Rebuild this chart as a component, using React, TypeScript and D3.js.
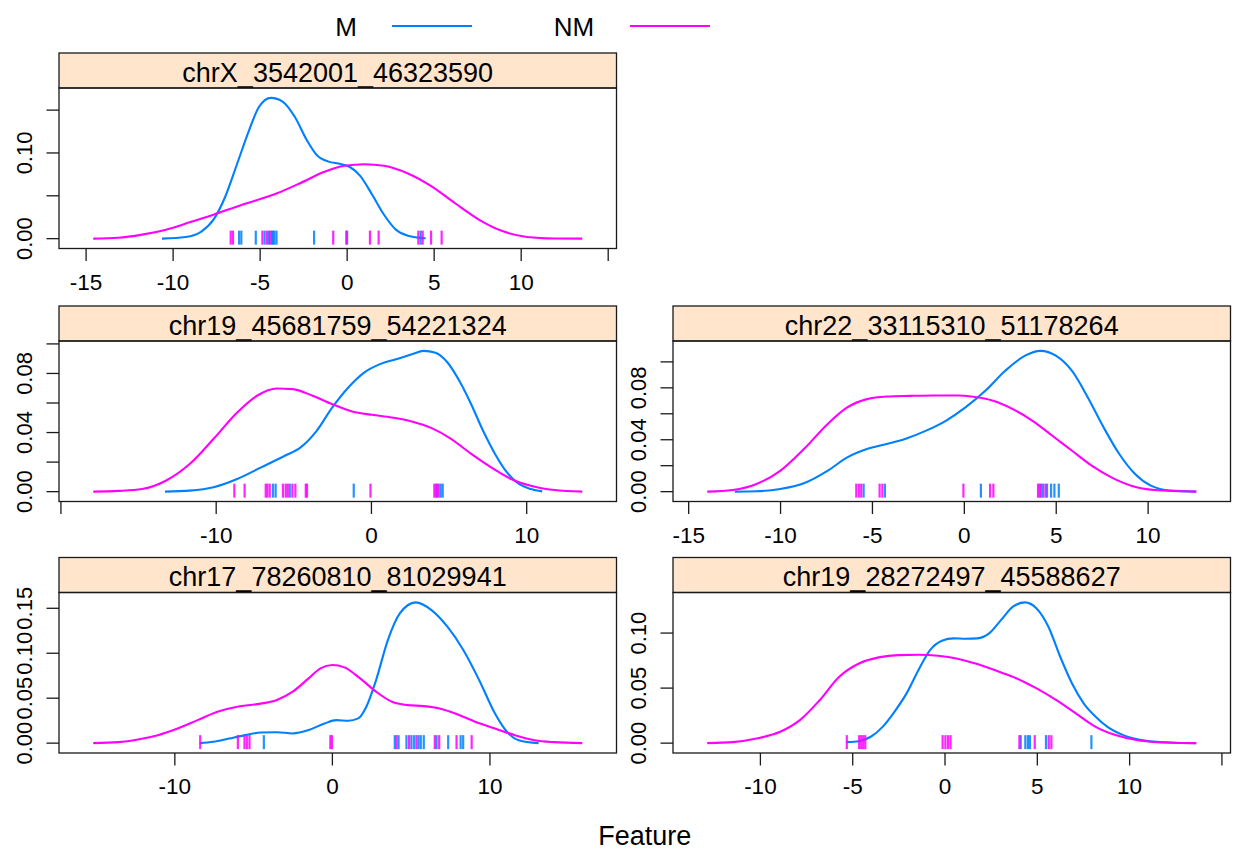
import React, { useEffect, useRef } from 'react';
import * as d3 from 'd3';

// groups and colours (lattice superpose defaults)
const groups = ['M', 'NM'];
const groupColors = ['#0080ff', '#ff00ff'];

const panelNames = [
  'chrX_3542001_46323590',
  'chr19_45681759_54221324',
  'chr22_33115310_51178264',
  'chr17_78260810_81029941',
  'chr19_28272497_45588627',
];

// density curves: [feature, density]
const chrX_M = [
  [-10.64, 0], [-9.28, 0.0019], [-8.36, 0.0085], [-7.68, 0.0221], [-7.0, 0.0492], [-6.31, 0.088],
  [-5.63, 0.1267], [-5.06, 0.1539], [-4.38, 0.1643], [-3.69, 0.1597], [-3.01, 0.1422], [-2.32, 0.1151],
  [-1.75, 0.0977], [-1.07, 0.0899], [-0.39, 0.0872], [0.18, 0.0833], [0.75, 0.0733], [1.44, 0.0512],
  [2.12, 0.0279], [2.8, 0.0105], [3.49, 0.0035], [4.51, 0.0004],
];
const chrX_NM = [
  [-14.59, 0], [-13.15, 0.001], [-11.78, 0.0047], [-10.41, 0.0105], [-9.05, 0.019], [-7.68, 0.028],
  [-6.31, 0.0376], [-4.95, 0.0465], [-4.03, 0.053], [-2.67, 0.065], [-1.3, 0.078], [-0.16, 0.085],
  [0.98, 0.0868], [2.12, 0.085], [3.49, 0.076], [4.85, 0.061], [6.22, 0.041], [7.59, 0.022],
  [8.96, 0.0085], [10.32, 0.002], [11.92, 0.0002], [13.51, 0],
];
const chr19a_M = [
  [-13.3, 0], [-11.71, 0.0007], [-10.18, 0.003], [-8.65, 0.0086], [-7.11, 0.0164], [-5.58, 0.0243],
  [-4.56, 0.03], [-3.54, 0.041], [-2.52, 0.057], [-1.49, 0.0705], [-0.47, 0.0806], [0.55, 0.0863],
  [1.58, 0.0896], [2.6, 0.093], [3.36, 0.0953], [4.13, 0.094], [4.9, 0.0874], [5.66, 0.075],
  [6.43, 0.059], [7.2, 0.041], [7.96, 0.0255], [8.73, 0.013], [9.5, 0.0052], [10.26, 0.0018], [11.0, 0.0002],
];
const chr19a_NM = [
  [-17.92, 0], [-16.31, 0.0005], [-14.78, 0.0018], [-13.25, 0.0074], [-11.71, 0.0187], [-10.18, 0.0356],
  [-8.65, 0.0536], [-7.37, 0.0649], [-6.09, 0.0698], [-5.07, 0.0694], [-3.79, 0.0649], [-2.52, 0.0592],
  [-1.24, 0.0543], [0.04, 0.052], [1.32, 0.0502], [2.6, 0.0475], [3.88, 0.043], [5.15, 0.0356],
  [6.43, 0.0255], [7.71, 0.0164], [8.99, 0.0086], [10.26, 0.004], [11.79, 0.0011], [13.58, 0],
];
const chr22_M = [
  [-12.49, 0], [-11.31, 0.0003], [-10.02, 0.002], [-8.73, 0.0064], [-7.45, 0.016], [-6.37, 0.0264],
  [-5.3, 0.0328], [-4.23, 0.0367], [-3.15, 0.041], [-2.08, 0.047], [-1.01, 0.0546], [0.06, 0.0649],
  [1.14, 0.0777], [2.21, 0.093], [3.28, 0.1046], [4.14, 0.1085], [5.0, 0.1046], [5.86, 0.093],
  [6.72, 0.0726], [7.58, 0.0495], [8.43, 0.029], [9.29, 0.0136], [10.15, 0.0046], [11.22, 0.0008], [12.62, 0],
];
const chr22_NM = [
  [-13.99, 0], [-12.6, 0.0013], [-11.31, 0.0059], [-10.02, 0.016], [-8.73, 0.0328], [-7.45, 0.052],
  [-6.37, 0.0649], [-5.3, 0.0713], [-4.23, 0.0733], [-2.94, 0.0738], [-1.65, 0.0741], [-0.36, 0.0741],
  [0.49, 0.0731], [1.57, 0.07], [2.64, 0.0636], [3.71, 0.0546], [4.79, 0.0431], [5.86, 0.0315],
  [6.93, 0.02], [8.0, 0.011], [9.08, 0.0046], [10.36, 0.0013], [12.62, 0],
];
const chr17_M = [
  [-8.43, 0], [-7.55, 0.0015], [-6.55, 0.0052], [-5.54, 0.0089], [-4.53, 0.0119], [-3.52, 0.0122],
  [-2.52, 0.0108], [-1.51, 0.0145], [-0.5, 0.0219], [0.25, 0.0256], [1.01, 0.0249], [1.64, 0.0275],
  [2.14, 0.04], [2.77, 0.07], [3.52, 0.1147], [4.28, 0.1444], [5.29, 0.1566], [6.29, 0.148],
  [7.3, 0.1295], [8.31, 0.1036], [9.32, 0.07], [10.32, 0.033], [11.08, 0.0126], [11.83, 0.0033], [13.09, 0],
];
const chr17_NM = [
  [-15.18, 0], [-13.6, 0.0011], [-12.34, 0.0041], [-11.08, 0.0089], [-9.82, 0.0163], [-8.56, 0.0256],
  [-7.3, 0.0349], [-6.04, 0.0405], [-4.78, 0.0434], [-3.52, 0.0479], [-2.52, 0.0572], [-1.51, 0.072],
  [-0.76, 0.0831], [0, 0.0869], [0.76, 0.0843], [1.76, 0.072], [2.77, 0.0572], [3.78, 0.046],
  [4.78, 0.0423], [5.79, 0.0412], [6.8, 0.0386], [7.8, 0.033], [9.06, 0.0238], [10.32, 0.0163],
  [11.58, 0.0089], [12.84, 0.0033], [14.1, 0.0011], [15.86, 0],
];
const chr19b_M = [
  [-5.34, 0.0009], [-4.66, 0.0018], [-4.02, 0.0058], [-3.38, 0.0148], [-2.74, 0.0285], [-2.09, 0.045],
  [-1.45, 0.066], [-0.81, 0.0845], [-0.17, 0.093], [0.47, 0.0952], [1.11, 0.0948], [1.75, 0.0952],
  [2.39, 0.0997], [3.03, 0.1118], [3.68, 0.124], [4.32, 0.1279], [4.96, 0.1224], [5.6, 0.1058],
  [6.24, 0.0785], [6.88, 0.0542], [7.52, 0.036], [8.16, 0.024], [8.8, 0.0148], [9.66, 0.0073],
  [10.73, 0.0027], [12.22, 0.0006], [13.61, 0],
];
const chr19b_NM = [
  [-12.88, 0], [-11.5, 0.0009], [-10.21, 0.0042], [-8.93, 0.0103], [-7.86, 0.0209], [-6.79, 0.039],
  [-5.73, 0.0603], [-4.66, 0.0724], [-3.59, 0.0779], [-2.52, 0.08], [-1.45, 0.0803], [-0.38, 0.0794],
  [0.68, 0.0767], [1.75, 0.0718], [2.82, 0.0655], [3.89, 0.0588], [4.96, 0.0497], [6.03, 0.0391],
  [7.09, 0.027], [8.16, 0.0148], [9.23, 0.0073], [10.51, 0.0024], [12.22, 0.0003], [13.61, 0],
];

// observed values (rug)
const chrX_M_pts = [-6.21, -6.08, -5.25, -4.74, -4.49, -4.33, -4.26, -4.18, -4.06, -1.9, 0.0, 4.22];
const chrX_NM_pts = [-6.69, -6.56, -4.87, -4.6, -4.41, -0.8, -0.05, 1.31, 1.81, 4.09, 4.34, 4.82, 5.43];
const chr19a_M_pts = [-6.34, -6.17, -5.26, -1.14, 4.24, 4.46, 4.59];
const chr19a_NM_pts = [-8.83, -8.17, -6.81, -6.7, -6.55, -5.7, -5.52, -5.39, -5.09, -4.9, -4.23, -4.15, -0.06, 4.05, 4.16, 4.33];
const chr22_M_pts = [-5.48, -4.32, 0.9, 4.1, 4.28, 4.5, 4.72, 4.9, 5.14];
const chr22_NM_pts = [-5.88, -5.74, -5.61, -4.61, -4.46, -0.05, 1.4, 1.58, 4.01, 4.17, 4.41];
const chr17_M_pts = [-4.35, 3.96, 4.2, 4.7, 5.02, 5.19, 5.47, 5.61, 5.8, 6.61, 7.35, 8.14, 8.3];
const chr17_NM_pts = [-8.39, -6.0, -5.58, -5.43, -5.26, -0.13, -0.03, 4.07, 4.87, 5.34, 6.5, 6.78, 7.88, 8.84];
const chr19b_M_pts = [4.1, 4.35, 4.49, 4.6, 5.47, 7.93];
const chr19b_NM_pts = [-5.32, -4.65, -4.54, -4.43, -4.32, -0.13, 0.02, 0.16, 0.3, 4.03, 4.86, 5.62, 5.76];

// axis ticks and the ones that carry a label
const xTicks = [
  [-15, -10, -5, 0, 5, 10, 15],
  [-20, -10, 0, 10],
  [-15, -10, -5, 0, 5, 10],
  [-10, 0, 10],
  [-10, -5, 0, 5, 10, 15],
];
const xLabels = [
  [-15, -10, -5, 0, 5, 10],
  [-10, 0, 10],
  [-15, -10, -5, 0, 5, 10],
  [-10, 0, 10],
  [-10, -5, 0, 5, 10],
];
const yTicks = [
  [0, 0.05, 0.1, 0.15],
  [0, 0.02, 0.04, 0.06, 0.08, 0.1],
  [0, 0.02, 0.04, 0.06, 0.08, 0.1],
  [0, 0.05, 0.1, 0.15],
  [0, 0.05, 0.1],
];
const yLabels = [
  [0, 0.1],
  [0, 0.04, 0.08],
  [0, 0.04, 0.08],
  [0, 0.05, 0.1, 0.15],
  [0, 0.05, 0.1],
];

const curvesM = [chrX_M, chr19a_M, chr22_M, chr17_M, chr19b_M];
const curvesNM = [chrX_NM, chr19a_NM, chr22_NM, chr17_NM, chr19b_NM];
const rugM = [chrX_M_pts, chr19a_M_pts, chr22_M_pts, chr17_M_pts, chr19b_M_pts];
const rugNM = [chrX_NM_pts, chr19a_NM_pts, chr22_NM_pts, chr17_NM_pts, chr19b_NM_pts];
const panelCell = [[0, 0], [0, 1], [1, 1], [0, 2], [1, 2]]; // [col, row]

const DensityPanels = () => {
  const ref = useRef(null);

  useEffect(() => {
    const width = 1235;
    const height = 852;
    const font = '"Liberation Sans", Arial, Helvetica, sans-serif';
    const colLeft = [59, 673];
    const panelW = 557.5;
    const rowTop = [53, 306, 557.5];
    const stripH = 35;
    const plotH = 160.5;
    const tick = 12.5;
    const ink = '#1a1a1a';

    const svg = d3.select(ref.current)
      .attr('width', width)
      .attr('height', height);

    svg.selectAll('*').remove();

    svg.append('rect').attr('width', width).attr('height', height).attr('fill', '#fff');

    // legend on top
    const legend = svg.append('g').style('font-family', font).style('font-size', '26px');
    const legendText = [346, 574];
    const legendLine = [[392, 472], [630, 710]];
    groups.forEach((gname, i) => {
      legend.append('text')
        .attr('x', legendText[i])
        .attr('y', 36)
        .attr('text-anchor', 'middle')
        .attr('fill', '#000')
        .text(gname);
      legend.append('line')
        .attr('x1', legendLine[i][0])
        .attr('x2', legendLine[i][1])
        .attr('y1', 26)
        .attr('y2', 26)
        .attr('stroke', groupColors[i])
        .attr('stroke-width', 2);
    });

    panelNames.forEach((name, i) => {
      const [col, row] = panelCell[i];
      const left = colLeft[col];
      const right = left + panelW;
      const top = rowTop[row];
      const plotTop = top + stripH;
      const plotBottom = plotTop + plotH;

      const all = [...curvesM[i], ...curvesNM[i]];
      const [x0, x1] = d3.extent(all, d => d[0]);
      const xPad = (x1 - x0) * 0.07;
      const x = d3.scaleLinear().domain([x0 - xPad, x1 + xPad]).range([left, right]);
      const yMax = d3.max(all, d => d[1]);
      const y = d3.scaleLinear().domain([-0.07 * yMax, 1.07 * yMax]).range([plotBottom, plotTop]);

      const g = svg.append('g');

      // strip
      g.append('rect')
        .attr('x', left)
        .attr('y', top)
        .attr('width', panelW)
        .attr('height', stripH)
        .attr('fill', '#ffe5cc')
        .attr('stroke', ink)
        .attr('stroke-width', 1.3);
      g.append('text')
        .attr('x', (left + right) / 2)
        .attr('y', top + 28.5)
        .attr('text-anchor', 'middle')
        .style('font-family', font)
        .style('font-size', '27px')
        .attr('fill', '#000')
        .text(name);

      // x axis
      xTicks[i].forEach(t => {
        g.append('line')
          .attr('x1', x(t)).attr('x2', x(t))
          .attr('y1', plotBottom).attr('y2', plotBottom + tick)
          .attr('stroke', ink).attr('stroke-width', 1.3);
      });
      xLabels[i].forEach(t => {
        g.append('text')
          .attr('x', x(t))
          .attr('y', plotBottom + 41)
          .attr('text-anchor', 'middle')
          .style('font-family', font)
          .style('font-size', '22.5px')
          .attr('fill', '#000')
          .text(t);
      });

      // y axis
      yTicks[i].forEach(t => {
        g.append('line')
          .attr('x1', left - tick).attr('x2', left)
          .attr('y1', y(t)).attr('y2', y(t))
          .attr('stroke', ink).attr('stroke-width', 1.3);
      });
      yLabels[i].forEach(t => {
        g.append('text')
          .attr('transform', `translate(${left - 27},${y(t)}) rotate(-90)`)
          .attr('text-anchor', 'middle')
          .style('font-family', font)
          .style('font-size', '22px')
          .attr('fill', '#000')
          .text(d3.format('.2f')(t));
      });

      const line = d3.line()
        .x(d => x(d[0]))
        .y(d => y(d[1]))
        .curve(d3.curveMonotoneX);

      const y0 = y(0);
      [curvesM[i], curvesNM[i]].forEach((curve, k) => {
        g.append('path')
          .datum(curve)
          .attr('d', line)
          .attr('fill', 'none')
          .attr('stroke', groupColors[k])
          .attr('stroke-width', 2.1);

        const pts = k === 0 ? rugM[i] : rugNM[i];
        g.selectAll(null)
          .data(pts)
          .enter()
          .append('line')
          .attr('x1', d => x(d)).attr('x2', d => x(d))
          .attr('y1', y0 - 8).attr('y2', y0 + 6)
          .attr('stroke', groupColors[k])
          .attr('stroke-width', 2.2)
          .attr('opacity', 0.85);
      });

      // panel box on top
      g.append('rect')
        .attr('x', left)
        .attr('y', plotTop)
        .attr('width', panelW)
        .attr('height', plotH)
        .attr('fill', 'none')
        .attr('stroke', ink)
        .attr('stroke-width', 1.3);
    });

    // x axis title
    svg.append('text')
      .attr('x', (colLeft[0] + colLeft[1] + panelW) / 2)
      .attr('y', 845)
      .attr('text-anchor', 'middle')
      .style('font-family', font)
      .style('font-size', '27px')
      .attr('fill', '#000')
      .text('Feature');
  }, []);

  return <svg ref={ref} style={{ position: 'absolute', left: 0, top: 0 }} />;
};

export default function App() {
  return <DensityPanels />;
}
